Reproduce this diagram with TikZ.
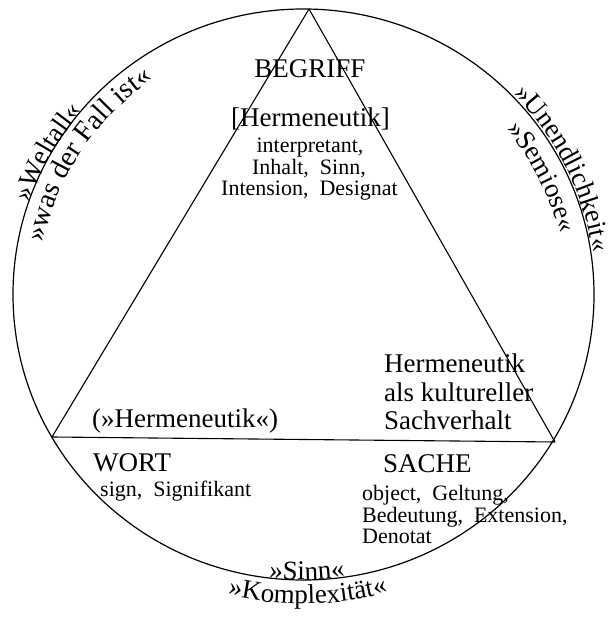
\documentclass[tikz,border=0pt]{standalone}
\usepackage{fontspec}
\setmainfont{Liberation Serif}
\usetikzlibrary{decorations.text,calc}
\newcommand\bigfont{\fontsize{27}{28.5}\selectfont}
\newcommand\widefont{\fontsize{28.5}{30}\selectfont}
\newcommand\smallfont{\fontsize{22}{22}\selectfont}

\begin{document}
\begin{tikzpicture}[x=1pt,y=1pt,
    term/.style={inner sep=0pt,font=\bigfont},
    gloss/.style={inner sep=0pt,font=\smallfont},
    ring/.style={decorate,decoration={text along path,text align=center}}]
    \useasboundingbox (0,0) rectangle (612,618);

    % Circle
    \coordinate (mid) at (303.5,323.5);
    \draw[line width=1.2pt] (mid) ellipse [x radius=290.5pt,y radius=285.5pt];

    % Triangle
    \coordinate (apex) at (309,609);
    \coordinate (wortpt) at (52,181);
    \coordinate (sachept) at (555,176);
    \draw[line width=1.1pt,line join=round] (apex) -- (wortpt) -- (sachept) -- cycle;

    % Begriff
    \node[term,anchor=base] (begriff) at (310,540) {BEGRIFF};
    \node[term,anchor=base] (hermb) at (310.5,491) {[Hermeneutik]};
    \node[gloss,anchor=base] (interp) at (310,465) {interpretant,};
    \node[gloss,anchor=base] (inhalt) at (309,443.5) {Inhalt,\ \ Sinn,};
    \node[gloss,anchor=base] (inten) at (309.5,422) {Intension,\ \ Designat};

    % Wort
    \node[term,anchor=base west] (hermq) at (92,190) {(»Hermeneutik«)};
    \node[term,anchor=base west] (wort) at (93,146) {WORT};
    \node[gloss,anchor=base west] (sign) at (100,121) {sign,\ \ Signifikant};

    % Sache
    \node[term,anchor=base west] (sachv1) at (384,245) {Hermeneutik};
    \node[term,anchor=base west] (sachv2) at (384,216.5) {als kultureller};
    \node[term,anchor=base west] (sachv3) at (384,188) {Sachverhalt};
    \node[term,anchor=base west] (sache) at (383,145) {SACHE};
    \node[gloss,anchor=base west] (obj1) at (362,117) {object,\ \ Geltung,};
    \node[gloss,anchor=base west] (obj2) at (362,95.5) {Bedeutung,\ \ Extension,};
    \node[gloss,anchor=base west] (obj3) at (362,74) {Denotat};

    % Texts along the circle
    \path[ring,decoration={text={|\bigfont|»Weltall«}}]
        ($(mid)+(178:289.5pt and 284.5pt)$) arc[start angle=178,end angle=123,x radius=289.5pt,y radius=284.5pt];
    \path[ring,decoration={text={|\widefont|»was der Fall ist«}}]
        ($(mid)+(190:265.5pt and 260.5pt)$) arc[start angle=190,end angle=103.4,x radius=265.5pt,y radius=260.5pt];
    \path[ring,decoration={text={|\bigfont|»Unendlichkeit«}}]
        ($(mid)+(62:292.5pt and 287.5pt)$) arc[start angle=62,end angle=-9.6,x radius=292.5pt,y radius=287.5pt];
    \path[ring,decoration={text={|\bigfont|»Semiose«}}]
        ($(mid)+(55:263.5pt and 258.5pt)$) arc[start angle=55,end angle=-1.8,x radius=263.5pt,y radius=258.5pt];
    \path[ring,decoration={text={|\bigfont|»Sinn«}}]
        ($(mid)+(250:290.5pt and 285.5pt)$) arc[start angle=250,end angle=291.4,x radius=290.5pt,y radius=285.5pt];
    \path[ring,decoration={text={|\bigfont|»Komplexität«}}]
        ($(mid)+(240:314.5pt and 309.5pt)$) arc[start angle=240,end angle=301.6,x radius=314.5pt,y radius=309.5pt];
\end{tikzpicture}
\end{document}
